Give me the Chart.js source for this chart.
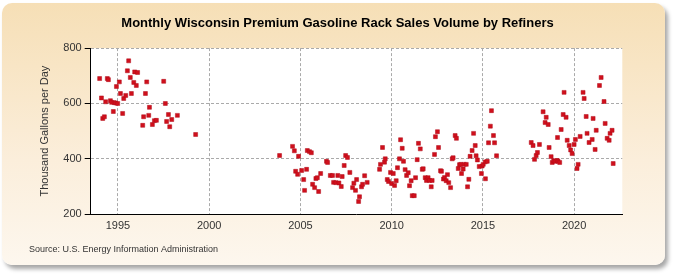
<!DOCTYPE html>
<html>
<head>
<meta charset="utf-8">
<script src="https://cdn.jsdelivr.net/npm/chart.js@4/dist/chart.umd.min.js"></script>
<style>
  body { margin: 0; background: #fff; }
  #wrap { position: relative; width: 675px; height: 275px; }
  #panel {
    position: absolute; left: 2px; top: 3px; width: 663px; height: 262px;
    border-radius: 10px;
    background: linear-gradient(to bottom, #f6dfb6 0%, #fbeedb 60%, #fdf7ee 100%);
    box-shadow: 3px 4px 4px rgba(0, 0, 0, 0.35);
  }
  #myChart { position: absolute; left: 0; top: 0; }
</style>
</head>
<body>
<div id="wrap">
  <div id="panel"></div>
  <canvas id="myChart" width="675" height="275"></canvas>
</div>
<script>
// month positions as decimal years
const dates = [
  1994.00, 1994.10, 1994.17, 1994.26, 1994.33, 1994.42, 1994.48, 1994.59, 1994.66, 1994.75, 1994.79, 1994.88,
  1994.92, 1994.99, 1995.08, 1995.14, 1995.26, 1995.32, 1995.43, 1995.52, 1995.59, 1995.68, 1995.74, 1995.87,
  1995.92, 1996.01, 1996.08, 1996.36, 1996.41, 1996.51, 1996.58, 1996.69, 1996.73, 1996.89, 1997.00, 1997.11,
  1997.51, 1997.60, 1997.67, 1997.77, 1997.84, 1997.95, 1998.26, 1999.26,
  2003.86, 2004.57, 2004.67, 2004.74, 2004.85, 2004.90, 2005.07, 2005.18, 2005.23, 2005.34, 2005.38, 2005.50,
  2005.60, 2005.67, 2005.78, 2005.85, 2005.93, 2006.00, 2006.11, 2006.43, 2006.49, 2006.64, 2006.76, 2006.82,
  2006.94, 2007.05, 2007.11, 2007.24, 2007.29, 2007.40, 2007.48, 2007.58, 2007.71, 2007.86, 2007.93, 2008.02,
  2008.08, 2008.19, 2008.24, 2008.35, 2008.41, 2008.52, 2008.66, 2009.34, 2009.39, 2009.50, 2009.61, 2009.65,
  2009.76, 2009.83, 2009.94, 2010.00, 2010.09, 2010.16, 2010.25, 2010.32, 2010.43, 2010.49, 2010.58, 2010.65,
  2010.74, 2010.82, 2010.91, 2010.98, 2011.07, 2011.13, 2011.24, 2011.31, 2011.40, 2011.47, 2011.57, 2011.68,
  2011.73, 2011.84, 2011.91, 2012.00, 2012.08, 2012.17, 2012.22, 2012.35, 2012.40, 2012.51, 2012.57, 2012.68,
  2012.73, 2012.84, 2012.90, 2012.99, 2013.06, 2013.13, 2013.23, 2013.32, 2013.37, 2013.48, 2013.55, 2013.65,
  2013.72, 2013.79, 2013.83, 2013.92, 2013.98, 2014.09, 2014.16, 2014.23, 2014.30, 2014.41, 2014.49, 2014.58,
  2014.63, 2014.70, 2014.80, 2014.92, 2014.96, 2015.02, 2015.13, 2015.14, 2015.24, 2015.31, 2015.41, 2015.47,
  2015.58, 2015.64, 2015.75,
  2017.65, 2017.75, 2017.83, 2017.92, 2017.99, 2018.10, 2018.30, 2018.41, 2018.47, 2018.58, 2018.63, 2018.74,
  2018.80, 2018.88, 2018.96, 2019.07, 2019.09, 2019.12, 2019.21, 2019.29, 2019.40, 2019.45, 2019.56, 2019.62,
  2019.73, 2019.81, 2019.89, 2020.00, 2020.07, 2020.16, 2020.22, 2020.33, 2020.49, 2020.55, 2020.66, 2020.71,
  2020.82, 2020.99, 2021.04, 2021.15, 2021.21, 2021.39, 2021.48, 2021.64, 2021.70, 2021.81, 2021.92, 2021.97,
  2022.08, 2022.14
];

// thousand gallons per day
const volumes = [
  690, 620, 546, 552, 606, 690, 686, 610, 604, 571, 603, 602,
  661, 600, 678, 636, 564, 618, 629, 718, 754, 694, 636, 676,
  714, 665, 712, 521, 552, 636, 678, 557, 586, 524, 538, 539,
  680, 600, 535, 560, 516, 542, 557, 488,
  412, 445, 429, 355, 344, 409, 358, 325, 286, 362, 430, 426,
  422, 308, 296, 329, 332, 282, 347, 391, 387, 340, 340, 315,
  314, 340, 313, 300, 336, 376, 412, 405, 351, 296, 312, 286,
  325, 246, 263, 299, 308, 339, 315, 362, 380, 441, 388, 400,
  325, 318, 351, 311, 347, 304, 321, 368, 400, 469, 438, 391,
  361, 340, 350, 303, 321, 267, 267, 332, 397, 456, 436, 362,
  364, 332, 322, 332, 322, 299, 322, 416, 480, 498, 441, 357,
  355, 327, 333, 321, 343, 314, 296, 400, 404, 484, 474, 365,
  379, 380, 347, 363, 380, 380, 299, 326, 409, 430, 492, 448,
  411, 396, 372, 347, 374, 380, 389, 328, 391, 458, 518, 574,
  484, 458, 411,
  459, 448, 398, 412, 423, 452, 570, 531, 550, 524, 441, 408,
  387, 393, 391, 394, 477, 391, 387, 506, 560, 640, 550, 467,
  448, 432, 419, 452, 470, 365, 380, 481, 640, 618, 553, 492,
  459, 470, 546, 434, 503, 665, 694, 607, 528, 474, 467, 492,
  503, 383
];

const yearTicks = [1995, 2000, 2005, 2010, 2015, 2020];
const volumeTicks = [200, 400, 600, 800];

const points = dates.map((d, i) => ({ x: d, y: volumes[i] }));

// white plot area on the beige panel
const plotBg = {
  id: 'plotBg',
  beforeDraw(chart) {
    const ctx = chart.ctx, a = chart.chartArea;
    ctx.save();
    ctx.fillStyle = '#ffffff';
    ctx.fillRect(a.left, a.top, a.right - a.left, a.bottom - a.top);
    ctx.restore();
  }
};

Chart.defaults.font.family = "'Liberation Sans', Arial, sans-serif";

new Chart("myChart", {
  type: "scatter",
  data: {
    datasets: [{
      data: points,
      pointStyle: "rect",
      radius: 2.8,
      hoverRadius: 2.8,
      backgroundColor: "#d0101c",
      borderColor: "#b00a18",
      borderWidth: 0.5
    }]
  },
  options: {
    responsive: false,
    animation: false,
    devicePixelRatio: 1,
    events: [],
    layout: { padding: { left: 29, right: 29, top: 0, bottom: 20 } },
    plugins: {
      legend: { display: false },
      tooltip: { enabled: false },
      title: {
        display: true,
        text: "Monthly Wisconsin Premium Gasoline Rack Sales Volume by Refiners",
        color: "#000",
        font: { size: 13, weight: "bold" },
        padding: { top: 16, bottom: 16.5 }
      },
      subtitle: {
        display: true,
        position: "bottom",
        align: "start",
        text: "Source: U.S. Energy Information Administration",
        color: "#333",
        font: { size: 9 },
        padding: { top: 0, bottom: 0 }
      }
    },
    scales: {
      x: {
        type: "linear",
        min: 1993.51,
        max: 2022.64,
        afterBuildTicks: s => { s.ticks = yearTicks.map(v => ({ value: v })); },
        afterFit: s => { s.height = 30; },
        ticks: { color: "#333", font: { size: 11 }, padding: 5, callback: v => String(v) },
        grid: { color: "#aaa", drawTicks: false },
        border: { color: "#000", width: 1, dash: [3, 2] }
      },
      y: {
        min: 200,
        max: 800,
        afterBuildTicks: s => { s.ticks = volumeTicks.map(v => ({ value: v })); },
        afterFit: s => { s.width = 61.7; },
        ticks: { color: "#333", font: { size: 11 }, padding: 3 },
        grid: {
          color: c => (c.tick && c.tick.value === 200) ? "rgba(0,0,0,0)" : "#aaa",
          tickColor: "#000",
          tickLength: 6
        },
        border: { color: "#000", width: 1, dash: [3, 2] },
        title: {
          display: true,
          text: "Thousand Gallons per Day",
          color: "#333",
          font: { size: 11 },
          padding: { top: 9, bottom: 0 }
        }
      },
      spacer: {
        position: "right",
        display: true,
        afterFit: s => { s.width = 23.7; },
        ticks: { display: false },
        grid: { display: false },
        border: { display: false }
      }
    }
  },
  plugins: [plotBg]
});
</script>
</body>
</html>
